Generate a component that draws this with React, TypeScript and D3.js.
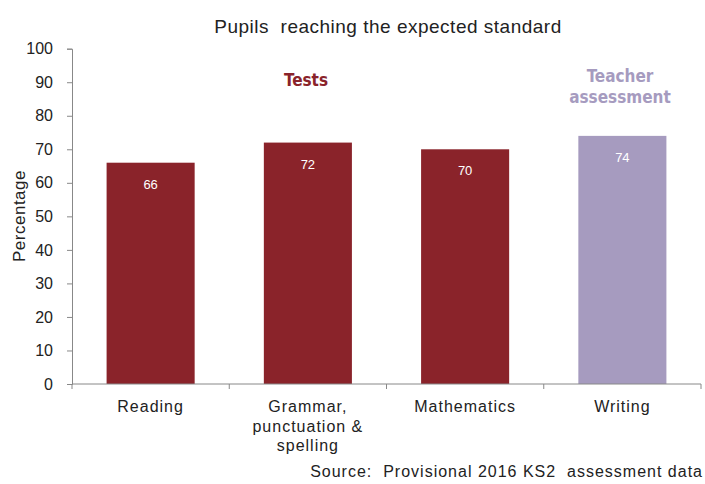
import React, { useRef, useEffect } from "react";
import * as d3 from "d3";

const categories = ["Reading", "Grammar, punctuation & spelling", "Mathematics", "Writing"];
const labelLines = [["Reading"], ["Grammar,", "punctuation &", "spelling"], ["Mathematics"], ["Writing"]];
const values = [66, 72, 70, 74];
const groups = ["test", "test", "test", "teacher"];
const yTicks = [0, 10, 20, 30, 40, 50, 60, 70, 80, 90, 100];

const W = 705;
const H = 484;
const colors: Record<string, string> = { test: "#8a232a", teacher: "#a69bbf" };

function App() {
  const svgRef = useRef<SVGSVGElement>(null);

  useEffect(() => {
    const svg = d3.select(svgRef.current);
    svg.selectAll("*").remove();

    const left = 72, right = 701, top = 48.7, bottom = 384;

    const x = d3.scaleBand().domain(categories).range([left, right]).paddingInner(0.44).paddingOuter(0.22);
    const y = d3.scaleLinear().domain([0, 100]).range([bottom, top]);

    const font = "Arial, 'Liberation Sans', sans-serif";
    const ink = "#222";

    // title
    svg.append("text").attr("x", 388).attr("y", 33).attr("text-anchor", "middle")
      .attr("font-family", font).attr("font-size", 19).attr("letter-spacing", 0.5).attr("fill", ink)
      .attr("xml:space", "preserve").style("white-space", "pre")
      .text("Pupils  reaching the expected standard");

    // y axis
    const ya = svg.append("g").attr("transform", `translate(${left},0)`)
      .call(d3.axisLeft(y).tickValues(yTicks).tickSize(5).tickPadding(14));
    ya.selectAll("path, line").attr("stroke", "#888");
    ya.selectAll("text").attr("font-family", font).attr("font-size", 16).attr("fill", ink);

    // bars
    svg.selectAll("rect.bar").data(values).enter().append("rect")
      .attr("x", (_, i) => x(categories[i])!)
      .attr("y", (d) => y(d))
      .attr("width", x.bandwidth())
      .attr("height", (d) => bottom - y(d))
      .attr("fill", (_, i) => colors[groups[i]]);

    // value labels
    svg.selectAll("text.val").data(values).enter().append("text")
      .attr("x", (_, i) => x(categories[i])! + x.bandwidth() / 2)
      .attr("y", (d) => y(d) + 26)
      .attr("text-anchor", "middle")
      .attr("font-family", font).attr("font-size", 13).attr("fill", "#fff")
      .text((d) => d);

    // x axis
    const xa = svg.append("g");
    xa.append("line").attr("x1", left).attr("x2", right).attr("y1", bottom).attr("y2", bottom).attr("stroke", "#888");
    const edges = [left, ...categories.map((c) => x(c)! + x.bandwidth() + (x.step() - x.bandwidth()) / 2)];
    edges.forEach((ex) => {
      xa.append("line").attr("x1", ex).attr("x2", ex).attr("y1", bottom).attr("y2", bottom + 5).attr("stroke", "#888");
    });
    labelLines.forEach((lines, i) => {
      const t = svg.append("text").attr("text-anchor", "middle")
        .attr("font-family", font).attr("font-size", 16).attr("letter-spacing", 1).attr("fill", ink);
      lines.forEach((l, j) => {
        t.append("tspan").attr("x", x(categories[i])! + x.bandwidth() / 2)
          .attr("y", 412 + j * 19.5).text(l);
      });
    });

    // y label
    svg.append("text").attr("transform", `translate(25,216) rotate(-90)`).attr("text-anchor", "middle")
      .attr("font-family", font).attr("font-size", 17).attr("letter-spacing", 0.5).attr("fill", ink).text("Percentage");

    // group labels
    const gfont = "'DejaVu Sans Condensed', 'Liberation Sans Narrow', Arial, sans-serif";
    svg.append("text").attr("x", 306).attr("y", 86).attr("text-anchor", "middle")
      .attr("font-family", gfont).attr("font-weight", "bold").attr("font-size", 17).attr("fill", colors.test).text("Tests");
    const tt = svg.append("text").attr("text-anchor", "middle")
      .attr("font-family", gfont).attr("font-weight", "bold").attr("font-size", 17).attr("fill", colors.teacher);
    tt.append("tspan").attr("x", 620).attr("y", 82).text("Teacher");
    tt.append("tspan").attr("x", 620).attr("y", 103).text("assessment");

    // source
    svg.append("text").attr("x", 703).attr("y", 477).attr("text-anchor", "end")
      .attr("font-family", font).attr("font-size", 16).attr("letter-spacing", 1).attr("fill", ink)
      .style("white-space", "pre")
      .text("Source:  Provisional 2016 KS2  assessment data");
  }, []);

  return <svg ref={svgRef} width={W} height={H} style={{ position: "absolute", left: 0, top: 0 }} />;
}

export default App;
